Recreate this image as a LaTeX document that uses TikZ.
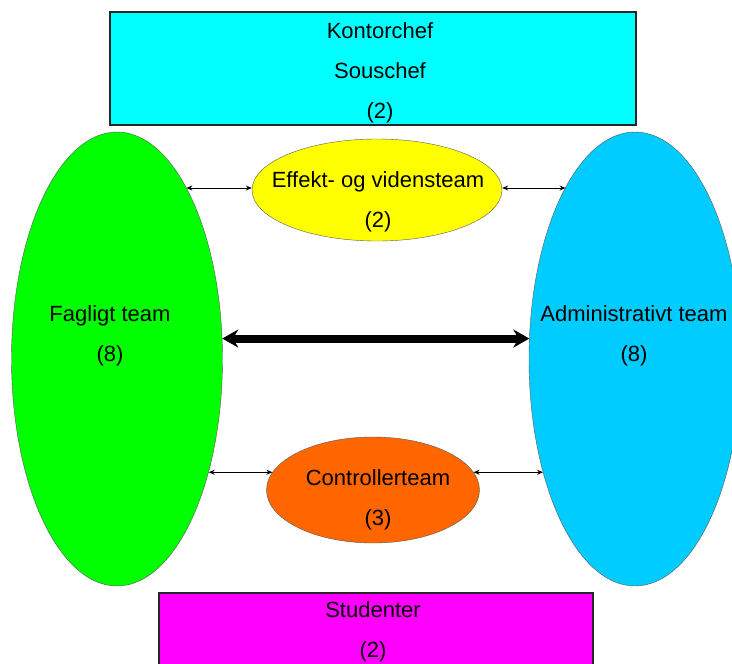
\documentclass[tikz,border=0pt]{standalone}
\usepackage{fontspec}
\setmainfont{Liberation Sans}
\usetikzlibrary{shapes.geometric,arrows.meta}
\tikzset {>=Stealth}
\definecolor{chefcyan}{HTML}{00FFFF}
\definecolor{fagfarve}{HTML}{00FF00}
\definecolor{admfarve}{HTML}{00CCFF}
\definecolor{efffarve}{HTML}{FFFF00}
\definecolor{ctrlfarve}{HTML}{FF6600}
\definecolor{studfarve}{HTML}{FF00FF}

\begin{document}
\begin{tikzpicture}[x=1pt,y=-1pt,
  team/.style={ellipse,draw=black!65,thin,inner sep=0pt},
  boks/.style={rectangle,draw=black!85,line width=1.2pt,inner sep=0pt},
  tekst/.style={align=center,font=\fontsize{22}{40}\selectfont},
  pil/.style={{Stealth[length=6pt,width=5pt]}-{Stealth[length=6pt,width=5pt]},line width=.9pt},
  tykpil/.style={{Stealth[length=16pt,width=18pt]}-{Stealth[length=16pt,width=18pt]},line width=8pt}]
\useasboundingbox (0,0) rectangle (732,664);
\clip (0,0) rectangle (732,664);
% ledelse
\node[boks,fill=chefcyan,minimum width=526pt,minimum height=113pt] (chef) at (373,68.5) {};
\node[tekst] (cheftxt) at (380,73) {Kontorchef\\Souschef\\(2)};
% de store teams
\node[team,fill=fagfarve,minimum width=211pt,minimum height=454pt] (fag) at (117,359) {};
\node[tekst] (fagtxt) at (110,336) {Fagligt team\\(8)};
\node[team,fill=admfarve,minimum width=212pt,minimum height=454pt] (adm) at (635,359) {};
\node[tekst] (admtxt) at (634,336) {Administrativt team\\(8)};
% smaa teams
\node[team,fill=efffarve,minimum width=250pt,minimum height=102pt] (eff) at (377,190) {};
\node[tekst] (efftxt) at (378,202) {Effekt- og vidensteam\\(2)};
\node[team,fill=ctrlfarve,minimum width=213pt,minimum height=106pt] (ctrl) at (373,490) {};
\node[tekst] (ctrltxt) at (378,500) {Controllerteam\\(3)};
% studenter
\node[boks,fill=studfarve,minimum width=434pt,minimum height=80pt] (stud) at (376,633) {};
\node[tekst] (studtxt) at (373,632) {Studenter\\(2)};
% pile
\coordinate (effv) at ([yshift=2pt]eff.west);
\coordinate (effo) at ([yshift=2pt]eff.east);
\draw[pil] (fag.68 |- effv) -- (effv);
\draw[pil] (effo) -- (adm.112 |- effo);
\draw[pil] (fag.-51 |- ctrl.170) -- (ctrl.170);
\draw[pil] (ctrl.10) -- (adm.-129 |- ctrl.10);
\draw[tykpil] (fag.11.4) -- (adm.168.6 |- fag.11.4);
\end{tikzpicture}
\end{document}
